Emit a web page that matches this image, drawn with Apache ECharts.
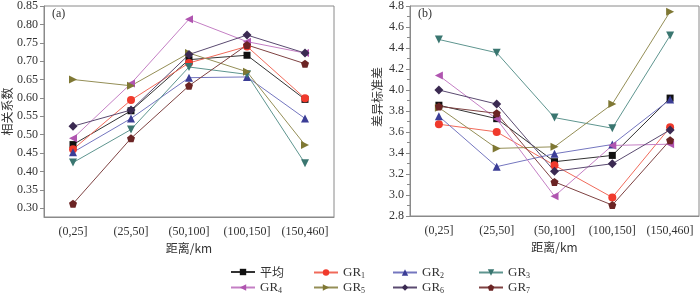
<!DOCTYPE html>
<html>
<head>
<meta charset="utf-8">
<script src="https://cdn.jsdelivr.net/npm/echarts@6/dist/echarts.min.js"></script>
<style>
  html, body { margin: 0; padding: 0; background: #fff; }
  #main { width: 700px; height: 296px; }
</style>
</head>
<body>
<div id="main"></div>
<script>
  // 距离分组
  var categories = ['(0,25]', '(25,50]', '(50,100]', '(100,150]', '(150,460]']
  var seriesNames = ['平均', 'GR1', 'GR2', 'GR3', 'GR4', 'GR5', 'GR6', 'GR7']

  // (a) 相关系数
  var corrAvg = [0.473, 0.565, 0.704, 0.716, 0.596]
  var corrGR1 = [0.460, 0.594, 0.695, 0.740, 0.599]
  var corrGR2 = [0.452, 0.544, 0.655, 0.657, 0.544]
  var corrGR3 = [0.424, 0.514, 0.684, 0.664, 0.422]
  var corrGR4 = [0.490, 0.639, 0.814, 0.753, 0.722]
  var corrGR5 = [0.650, 0.633, 0.722, 0.671, 0.472]
  var corrGR6 = [0.523, 0.567, 0.718, 0.771, 0.722]
  var corrGR7 = [0.312, 0.490, 0.633, 0.744, 0.693]

  // (b) 差异标准差
  var stdAvg = [3.855, 3.727, 3.317, 3.377, 3.923]
  var stdGR1 = [3.674, 3.601, 3.283, 2.977, 3.645]
  var stdGR2 = [3.750, 3.270, 3.393, 3.481, 3.910]
  var stdGR3 = [4.481, 4.355, 3.737, 3.636, 4.519]
  var stdGR4 = [4.138, 3.724, 2.989, 3.472, 3.484]
  var stdGR5 = [3.832, 3.444, 3.459, 3.866, 4.746]
  var stdGR6 = [4.000, 3.866, 3.226, 3.298, 3.620]
  var stdGR7 = [3.844, 3.778, 3.125, 2.904, 3.522]

  var corrTicks = [0.30, 0.35, 0.40, 0.45, 0.50, 0.55, 0.60, 0.65, 0.70, 0.75, 0.80, 0.85]

  var corrData = [corrAvg, corrGR1, corrGR2, corrGR3, corrGR4, corrGR5, corrGR6, corrGR7]
  var stdData = [stdAvg, stdGR1, stdGR2, stdGR3, stdGR4, stdGR5, stdGR6, stdGR7]

  var pentagon = 'path://M0,-10 L9.51,-3.09 L5.88,8.09 L-5.88,8.09 L-9.51,-3.09 Z'
  // 样式：标记颜色、线颜色、符号、旋转
  var styles = [
    {mark: '#111111', line: '#333333', symbol: 'rect', rotate: 0, size: 7},
    {mark: '#f03a2c', line: '#f06a5a', symbol: 'circle', rotate: 0, size: 8},
    {mark: '#3b3d96', line: '#7476bf', symbol: 'triangle', rotate: 0, size: 8},
    {mark: '#3a7670', line: '#5e958f', symbol: 'triangle', rotate: 180, size: 8},
    {mark: '#b055b0', line: '#c47fc4', symbol: 'triangle', rotate: 90, size: 8},
    {mark: '#7f7834', line: '#948e56', symbol: 'triangle', rotate: -90, size: 8},
    {mark: '#3b2a52', line: '#5a4a70', symbol: 'diamond', rotate: 0, size: 9},
    {mark: '#6b2424', line: '#7e4242', symbol: pentagon, rotate: 0, size: 8}
  ]

  var serif = '"Liberation Serif", "DejaVu Serif", serif'
  var cjk = '"Noto Sans CJK SC", sans-serif'
  var axisColor = '#8a8a8a'

  function makeSeries (data, idx) {
    return data.map(function (vals, i) {
      var s = styles[i]
      return {
        name: seriesNames[i],
        type: 'line',
        xAxisIndex: idx,
        yAxisIndex: idx,
        data: vals,
        symbol: s.symbol,
        symbolSize: s.size,
        symbolRotate: s.rotate,
        showAllSymbol: true,
        itemStyle: {color: s.mark},
        lineStyle: {color: s.line, width: 1},
        emphasis: {disabled: true},
        animation: false
      }
    })
  }

  function xAxisOpt (gridIndex) {
    return {
      type: 'category',
      gridIndex: gridIndex,
      data: categories,
      boundaryGap: true,
      name: '距离/km',
      nameLocation: 'middle',
      nameGap: 25,
      nameTextStyle: {fontFamily: cjk, fontSize: 12, color: '#333'},
      axisLine: {lineStyle: {color: axisColor}},
      axisTick: {alignWithLabel: true, length: 4, lineStyle: {color: axisColor}},
      axisLabel: {fontFamily: serif, fontSize: 12, color: '#333', margin: 9, interval: 0}
    }
  }

  // 图例：两行四列
  var legendPos = [
    [230, 266], [313, 266], [392, 266], [478, 266],
    [230, 281], [313, 281], [392, 281], [478, 281]
  ]
  var legends = seriesNames.map(function (name, i) {
    return {
      data: [name],
      left: legendPos[i][0],
      top: legendPos[i][1],
      padding: 0,
      itemWidth: 24,
      itemHeight: 8,
      itemGap: 4,
      selectedMode: false,
      formatter: function (n) {
        if (n.indexOf('GR') === 0) return 'GR{s|' + n.slice(2) + '}'
        return '{c|' + n + '}'
      },
      textStyle: {
        fontFamily: serif,
        fontSize: 13,
        color: '#333',
        rich: {
          s: {fontFamily: serif, fontSize: 8, color: '#333', verticalAlign: 'bottom', padding: [6, 0, 0, 0]},
          c: {fontFamily: cjk, fontSize: 12, color: '#333'}
        }
      }
    }
  })

  var chart = echarts.init(document.getElementById('main'))
  chart.setOption({
    animation: false,
    legend: legends,
    grid: [
      {left: 44, top: 3, width: 290, height: 214, show: true, borderColor: axisColor, borderWidth: 1, containLabel: false},
      {left: 410, top: 5, width: 289, height: 211, show: true, borderColor: axisColor, borderWidth: 1, containLabel: false}
    ],
    title: [
      {text: '(a)', left: 47, top: 3, textStyle: {fontFamily: serif, fontSize: 12, fontWeight: 'normal', color: '#333'}},
      {text: '(b)', left: 413, top: 3, textStyle: {fontFamily: serif, fontSize: 12, fontWeight: 'normal', color: '#333'}}
    ],
    xAxis: [xAxisOpt(0), xAxisOpt(1)],
    yAxis: [
      {
        type: 'value',
        gridIndex: 0,
        min: 0.276,
        max: 0.85,
        name: '相关系数',
        nameLocation: 'middle',
        nameGap: 31,
        nameTextStyle: {fontFamily: cjk, fontSize: 12, color: '#333'},
        splitLine: {show: false},
        axisLine: {show: true, lineStyle: {color: axisColor}},
        axisTick: {show: true, length: 4, customValues: corrTicks, lineStyle: {color: axisColor}},
        axisLabel: {
          customValues: corrTicks,
          fontFamily: serif,
          fontSize: 12,
          color: '#333',
          margin: 6,
          formatter: function (v) { return v.toFixed(2) }
        }
      },
      {
        type: 'value',
        gridIndex: 1,
        min: 2.8,
        max: 4.8,
        interval: 0.2,
        name: '差异标准差',
        nameLocation: 'middle',
        nameGap: 27,
        nameTextStyle: {fontFamily: cjk, fontSize: 12, color: '#333', padding: [0, 0, 0, 28]},
        splitLine: {show: false},
        axisLine: {show: true, lineStyle: {color: axisColor}},
        axisTick: {show: true, length: 4, lineStyle: {color: axisColor}},
        minorTick: {show: true, splitNumber: 2, length: 3, lineStyle: {color: axisColor}},
        axisLabel: {
          fontFamily: serif,
          fontSize: 12,
          color: '#333',
          margin: 6,
          formatter: function (v) { return v.toFixed(1) }
        }
      }
    ],
    series: makeSeries(corrData, 0).concat(makeSeries(stdData, 1))
  })
</script>
</body>
</html>
